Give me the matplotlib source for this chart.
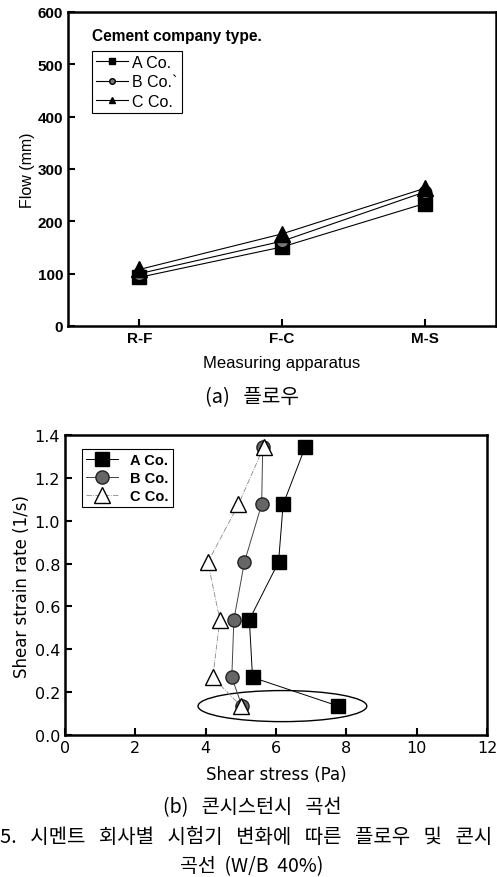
import matplotlib.pyplot as plt
from matplotlib.patches import Ellipse

plt.rcParams['font.family'] = ['Liberation Sans', 'Noto Sans CJK KR', 'DejaVu Sans']
KR = ['Noto Sans CJK KR', 'DejaVu Sans']
WIDE = ['DejaVu Sans', 'Noto Sans CJK KR']

# (a) flow
apparatus = ['R-F', 'F-C', 'M-S']
flow_a = [93, 151, 234]
flow_b = [100, 162, 256]
flow_c = [108, 176, 263]

# (b) consistency curve
rate = [1.345, 1.076, 0.807, 0.538, 0.269, 0.135]
stress_a = [6.83, 6.20, 6.07, 5.24, 5.33, 7.77]
stress_b = [5.62, 5.59, 5.10, 4.80, 4.74, 5.03]
stress_c = [5.65, 4.93, 4.06, 4.40, 4.20, 5.00]

caption_words = ['5.', '시멘트', '회사별', '시험기', '변화에', '따른', '플로우', '및', '콘시']

fig = plt.figure(figsize=(4.97, 8.78), dpi=100)

#%% top
ax1 = fig.add_axes([0.137, 0.6276, 0.861, 0.3576])
x = range(len(apparatus))
ax1.plot(x, flow_a, '-', color='black', lw=0.8, marker='s', ms=10, label='A Co.')
ax1.plot(x, flow_b, '-', color='black', lw=0.8, marker='o', ms=9, mfc='#777777',
         label='B Co.`')
ax1.plot(x, flow_c, '-', color='black', lw=0.8, marker='^', ms=11, label='C Co.')
ax1.set_xlim(-0.5, 2.5)
ax1.set_ylim(0, 600)
ax1.set_xticks(list(x))
ax1.set_xticklabels(apparatus, fontweight='bold', fontsize=10.5)
ax1.set_yticks(range(0, 601, 100))
ax1.tick_params(direction='in', length=5, width=1.5, labelsize=11)
for lab in ax1.get_yticklabels():
    lab.set_fontweight('bold')
ax1.set_ylabel('Flow (mm)', fontsize=11.5, labelpad=2)
ax1.set_xlabel('Measuring apparatus', fontsize=12, labelpad=7)
for s in ax1.spines.values():
    s.set_linewidth(1.8)
ax1.text(0.055, 0.925, 'Cement company type.', transform=ax1.transAxes,
         fontsize=11.2, fontweight='bold', va='center')
leg1 = ax1.legend(loc='upper left', bbox_to_anchor=(0.055, 0.876), fontsize=11.5,
                  markerscale=0.45, handlelength=2.0, handletextpad=0.3,
                  borderpad=0.25, labelspacing=0.28, fancybox=False,
                  framealpha=1, edgecolor='black', borderaxespad=0)
leg1.get_frame().set_linewidth(0.8)

fig.text(0.507, 1 - 398 / 878, '(a)   플로우', ha='center', va='center',
         fontsize=14.5, family=KR)

#%% bottom
ax2 = fig.add_axes([0.131, 0.1617, 0.849, 0.3417])
ax2.plot(stress_a, rate, '-', color='black', lw=0.7, marker='s', ms=9.5, label='A Co.')
ax2.plot(stress_b, rate, '-', color='#444444', lw=0.7, marker='o', ms=9.5,
         mfc='#666666', mec='#222222', label='B Co.')
ax2.plot(stress_c, rate, '-.', color='#888888', lw=0.6, marker='^', ms=11,
         mfc='white', mec='black', label='C Co.')
ax2.add_patch(Ellipse((6.18, 0.135), 4.8, 0.145, fill=False, lw=1.0, color='black'))
ax2.set_xlim(0, 12)
ax2.set_ylim(0, 1.4)
ax2.set_xticks(range(0, 13, 2))
ax2.set_yticks([0.0, 0.2, 0.4, 0.6, 0.8, 1.0, 1.2, 1.4])
ax2.set_yticklabels(['0.0', '0.2', '0.4', '0.6', '0.8', '1.0', '1.2', '1.4'],
                    family=WIDE)
ax2.set_xticklabels([str(v) for v in range(0, 13, 2)], family=WIDE)
ax2.tick_params(direction='in', length=5, width=1.5, labelsize=11.5)
ax2.set_xlabel('Shear stress (Pa)', fontsize=12, labelpad=7, family=WIDE)
ax2.set_ylabel('Shear strain rate (1/s)', fontsize=12, labelpad=3, family=WIDE)
for s in ax2.spines.values():
    s.set_linewidth(1.8)
leg2 = ax2.legend(loc='upper left', bbox_to_anchor=(0.04, 0.955),
                  prop={'weight': 'bold', 'size': 10.5}, handlelength=2.2,
                  handletextpad=0.8, borderpad=0.3, labelspacing=0.28,
                  fancybox=False, framealpha=1, edgecolor='black', borderaxespad=0)
leg2.get_frame().set_linewidth(0.8)

fig.text(0.507, 1 - 808 / 878, '(b)   콘시스턴시   곡선', ha='center', va='center',
         fontsize=14.2, family=KR)
fig.text(0.0, 1 - 838 / 878, '   '.join(caption_words),
         ha='left', va='center', fontsize=14.4, family=KR)
fig.text(0.507, 1 - 867 / 878, '곡선  (W/B  40%)', ha='center', va='center',
         fontsize=14, family=KR)

fig.savefig('out.png', dpi=100)
